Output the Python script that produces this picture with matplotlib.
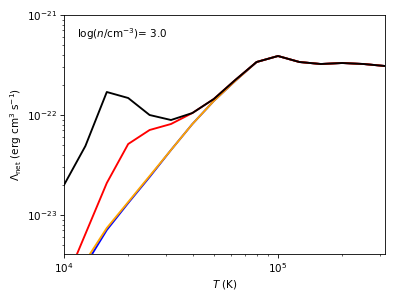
import numpy as np
import matplotlib.pyplot as plt

# log10 T grid (0.1 dex steps)
logT = [4.0, 4.1, 4.2, 4.3, 4.4, 4.5, 4.6, 4.7, 4.8, 4.9, 5.0, 5.1, 5.2, 5.3, 5.4, 5.5]

# log10 Lambda_net
lam_black = [-22.70, -22.31, -21.77, -21.83, -22.00, -22.05, -21.98, -21.84,
             -21.65, -21.47, -21.41, -21.47, -21.49, -21.48, -21.49, -21.51]
lam_red = [-23.70, -23.19, -22.68, -22.29, -22.15, -22.09, -21.98, -21.84,
           -21.65, -21.47, -21.41, -21.47, -21.49, -21.48, -21.49, -21.51]
lam_orange = [-23.79, -23.46, -23.13, -22.87, -22.61, -22.35, -22.09, -21.86,
              -21.66, -21.47, -21.41, -21.47, -21.49, -21.48, -21.49, -21.51]
lam_blue = [-23.84, -23.50, -23.15, -22.88, -22.62, -22.35, -22.09, -21.86,
            -21.66, -21.47, -21.41, -21.47, -21.49, -21.48, -21.49, -21.51]

T = 10.0 ** np.array(logT)

# the original was drawn at a smaller scale, shrink everything accordingly
s = 0.75
plt.rcParams.update({
    'font.size': 10 * s,
    'axes.linewidth': 0.8 * s,
    'xtick.major.size': 3.5 * s, 'ytick.major.size': 3.5 * s,
    'xtick.minor.size': 2.0 * s, 'ytick.minor.size': 2.0 * s,
    'xtick.major.width': 0.8 * s, 'ytick.major.width': 0.8 * s,
    'xtick.minor.width': 0.6 * s, 'ytick.minor.width': 0.6 * s,
    'xtick.major.pad': 3.0 * s, 'ytick.major.pad': 3.5 * s,
    'axes.labelpad': 3.0 * s,
})

fig = plt.figure(figsize=(3.99, 2.99), dpi=100)
ax = fig.add_axes([0.1604, 0.1505, 0.8045, 0.7993])

lw = 1.35
ax.plot(T, 10.0 ** np.array(lam_blue), color='blue', lw=lw)
ax.plot(T, 10.0 ** np.array(lam_orange), color='orange', lw=lw)
ax.plot(T, 10.0 ** np.array(lam_red), color='red', lw=lw)
ax.plot(T, 10.0 ** np.array(lam_black), color='black', lw=lw)

ax.set_xscale('log')
ax.set_yscale('log')
ax.set_xlim(1e4, 10 ** 5.5)
ax.set_ylim(10 ** -23.39, 1e-21)

ax.set_xlabel(r'$T$ (K)')
ax.set_ylabel(r'$\Lambda_{\rm net}$ (erg cm$^3$ s$^{-1}$)')
ax.text(0.042, 0.92, r'$\log(n/{\rm cm}^{-3})$= 3.0', transform=ax.transAxes,
        va='center', ha='left')

fig.savefig('out.png', dpi=100)
